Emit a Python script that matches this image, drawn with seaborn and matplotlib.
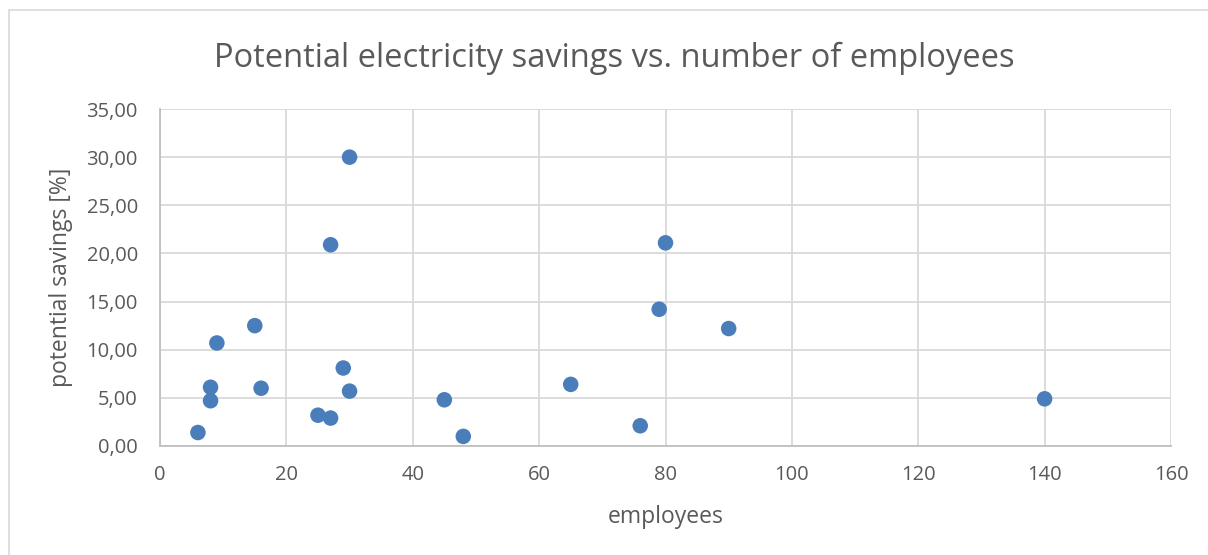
import matplotlib
matplotlib.use("Agg")
import matplotlib.pyplot as plt
from matplotlib.ticker import FuncFormatter, MultipleLocator
from matplotlib.patches import Rectangle
import seaborn as sns
import pandas as pd

employees = [6, 8, 8, 9, 15, 16, 25, 27, 27, 29, 30, 30, 45, 48, 65, 76, 79, 80, 90, 140]
savings = [1.4, 6.1, 4.7, 10.7, 12.5, 6.0, 3.2, 2.9, 20.9, 8.1, 30.0, 5.7, 4.8, 1.0, 6.4, 2.1, 14.2, 21.1, 12.2, 4.9]

df = pd.DataFrame({"employees": employees, "savings": savings})

sns.set_theme(style="white")
plt.rcParams["font.family"] = ["Open Sans", "DejaVu Sans"]

text_color = "#595959"
grid_color = "#d9d9d9"

W, H = 1208, 555
fig = plt.figure(figsize=(W / 100, H / 100), dpi=100)
ax = fig.add_axes([160 / W, 1 - 446 / H, (1171 - 160) / W, (446 - 109) / H])

sns.scatterplot(data=df, x="employees", y="savings", ax=ax, s=125,
                color="#4a7ebb", edgecolor="none", zorder=3)

ax.set_xlim(0, 160)
ax.set_ylim(0, 35)
ax.xaxis.set_major_locator(MultipleLocator(20))
ax.yaxis.set_major_locator(MultipleLocator(5))
ax.yaxis.set_major_formatter(FuncFormatter(lambda v, p: f"{v:.2f}".replace(".", ",")))

ax.grid(True, color=grid_color, linewidth=1.3)
ax.set_axisbelow(True)
for side in ["top", "right"]:
    ax.spines[side].set_visible(False)
for side in ["left", "bottom"]:
    ax.spines[side].set_color("#bfbfbf")
    ax.spines[side].set_linewidth(1.3)

ax.tick_params(axis="both", length=0, labelsize=14.5, colors=text_color)
ax.tick_params(axis="y", pad=16)
ax.tick_params(axis="x", pad=14)

ax.set_xlabel("employees", fontsize=16.5, color=text_color, va="center")
ax.set_ylabel("potential savings [%]", fontsize=16.5, color=text_color, va="center")
ax.xaxis.set_label_coords(0.5, (446 - 517) / (446 - 109))
ax.yaxis.set_label_coords((61 - 160) / (1171 - 160), 0.5)

fig.text((214 + 1014) / 2 / W, 1 - 67 / H,
         "Potential electricity savings vs. number of employees",
         fontsize=23.5, color=text_color, ha="center", va="baseline")

fig.patches.append(Rectangle((9 / W, -0.1), 1.2, 1 - 10 / H + 0.1,
                             transform=fig.transFigure, fill=False,
                             edgecolor="#d9d9d9", linewidth=1.2))

fig.savefig("out.png", dpi=100, facecolor="white")
